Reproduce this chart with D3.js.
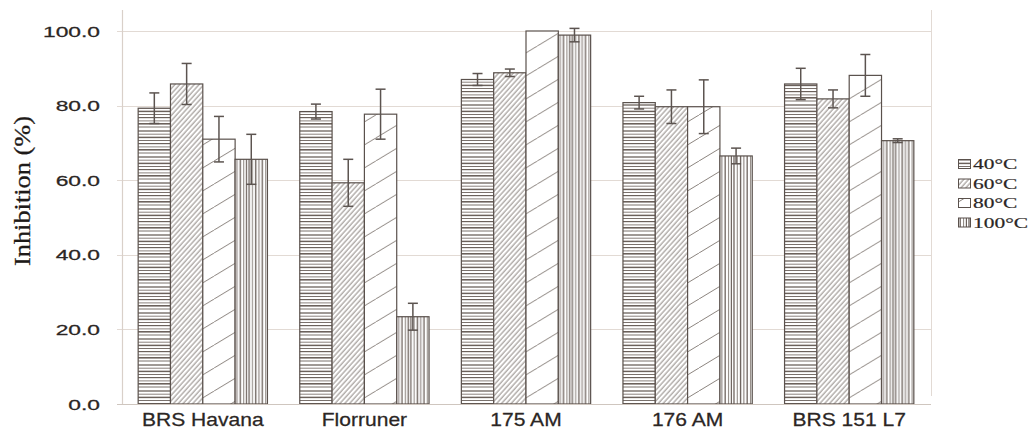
<!DOCTYPE html>
<html>
<head>
<meta charset="utf-8">
<script src="https://cdn.jsdelivr.net/npm/d3@7"></script>
<style>
  html, body { margin: 0; padding: 0; background: #fff; }
  svg { display: block; }
</style>
</head>
<body>
<svg id="chart" width="1036" height="429"></svg>
<script>
// Cultivars on the x axis
const categories = ["BRS Havana", "Florruner", "175 AM", "176 AM", "BRS 151 L7"];
// Treatment temperatures (one bar per temperature within each cultivar)
const series = ["40°C", "60°C", "80°C", "100°C"];

// Mean inhibition (%) per temperature, in cultivar order
const values40 = [79.3, 78.4, 87.0, 80.8, 85.8];
const values60 = [85.8, 59.3, 88.8, 79.7, 81.8];
const values80 = [71.0, 77.7, 100.0, 79.7, 88.1];
const values100 = [65.6, 23.4, 98.9, 66.5, 70.6];

// Standard deviations
const err40 = [4.1, 2.0, 1.6, 1.7, 4.2];
const err60 = [5.5, 6.3, 1.0, 4.5, 2.4];
const err80 = [6.1, 6.7, 0.0, 7.2, 5.6];
const err100 = [6.7, 3.6, 1.8, 2.1, 0.5];

// Y axis ticks
const yTicks = [0, 20, 40, 60, 80, 100];

const valuesBySeries = [values40, values60, values80, values100];
const errBySeries = [err40, err60, err80, err100];
const patternIds = ["p40", "p60", "p80", "p100"];

const svg = d3.select("#chart");
const plotLeft = 122, plotRight = 931, plotTop = 10, plotBottom = 404;

const x = d3.scaleBand().domain(categories).range([plotLeft, plotRight - 1])
  .paddingInner(0.2).paddingOuter(0.1);
const xs = d3.scaleBand().domain(series).range([0, x.bandwidth()]);
const y = d3.scaleLinear().domain([0, 100]).range([plotBottom, 31]);

const lineCol = "#6b615b";
const edgeCol = "#5a514c";
const textCol = "#2b2624";

// ---- hatch patterns ----
const defs = svg.append("defs");

// 40°C: irregular horizontal stripes
const p40 = defs.append("pattern").attr("id", "p40")
  .attr("patternUnits", "userSpaceOnUse").attr("width", 10).attr("height", 26);
[[1, 1.3], [4.2, 0.8], [7.4, 1.5], [10.5, 0.9], [13.6, 1.2], [16.9, 0.8], [19.8, 1.6], [23.0, 0.9]]
  .forEach(([yy, w]) => p40.append("line")
    .attr("x1", 0).attr("x2", 10).attr("y1", yy).attr("y2", yy)
    .attr("stroke", lineCol).attr("stroke-width", w));

// 60°C: dense forward diagonals
const p60 = defs.append("pattern").attr("id", "p60")
  .attr("patternUnits", "userSpaceOnUse").attr("width", 3.6).attr("height", 10)
  .attr("patternTransform", "rotate(42)");
p60.append("line").attr("x1", 1).attr("x2", 1).attr("y1", 0).attr("y2", 10)
  .attr("stroke", "#7a716b").attr("stroke-width", 0.9);

// 80°C: sparse shallow diagonals
const p80 = defs.append("pattern").attr("id", "p80")
  .attr("patternUnits", "userSpaceOnUse").attr("width", 38).attr("height", 23);
[-38, 0, 38].forEach(dx => p80.append("line")
  .attr("x1", dx).attr("y1", 23).attr("x2", dx + 38).attr("y2", 0)
  .attr("stroke", "#7d746e").attr("stroke-width", 0.9));

// 100°C: irregular vertical stripes
const p100 = defs.append("pattern").attr("id", "p100")
  .attr("patternUnits", "userSpaceOnUse").attr("width", 22).attr("height", 10);
[[1, 1.3], [4.3, 0.8], [7.6, 1.4], [10.9, 0.9], [14.2, 1.3], [17.6, 0.8], [20.4, 1.2]]
  .forEach(([xx, w]) => p100.append("line")
    .attr("y1", 0).attr("y2", 10).attr("x1", xx).attr("x2", xx)
    .attr("stroke", lineCol).attr("stroke-width", w));

// ---- grid and axes ----
svg.append("g").selectAll("line").data(yTicks.filter(d => d > 0)).join("line")
  .attr("x1", 117).attr("x2", plotRight)
  .attr("y1", d => Math.round(y(d)) + 0.5).attr("y2", d => Math.round(y(d)) + 0.5)
  .attr("stroke", "#e2dad4").attr("stroke-width", 1);

// left axis line and right frame line
svg.append("line").attr("x1", plotLeft + 0.5).attr("x2", plotLeft + 0.5)
  .attr("y1", plotTop).attr("y2", plotBottom + 1)
  .attr("stroke", "#d9d0c9").attr("stroke-width", 1.2);
svg.append("line").attr("x1", plotRight + 0.5).attr("x2", plotRight + 0.5)
  .attr("y1", plotTop).attr("y2", plotBottom - 8)
  .attr("stroke", "#e2dad4").attr("stroke-width", 1);

// y tick labels
const yLab = svg.append("g");
yTicks.forEach(t => {
  yLab.append("g").attr("transform", `translate(100,${y(t) + 5.5}) scale(1.52,1)`)
    .append("text").attr("text-anchor", "end")
    .attr("font-family", "Liberation Sans, Arial, sans-serif")
    .attr("font-size", 15).attr("fill", textCol)
    .attr("stroke", textCol).attr("stroke-width", 0.25)
    .text(d3.format(".1f")(t));
});

// y axis title
svg.append("text")
  .attr("transform", "translate(30,191) rotate(-90)")
  .attr("text-anchor", "middle")
  .attr("font-family", "Liberation Serif, Times New Roman, serif")
  .attr("font-size", 23).attr("fill", "#1e1a18")
  .attr("stroke", "#1e1a18").attr("stroke-width", 0.3)
  .attr("textLength", 150).attr("lengthAdjust", "spacingAndGlyphs")
  .text("Inhibition (%)");

// ---- bars ----
const groups = svg.append("g").selectAll("g").data(categories).join("g")
  .attr("transform", d => `translate(${x(d)},0)`);

groups.each(function (cat, ci) {
  const g = d3.select(this);
  series.forEach((s, si) => {
    const v = valuesBySeries[si][ci];
    g.append("rect")
      .attr("x", xs(s)).attr("width", xs.bandwidth())
      .attr("y", y(v)).attr("height", y(0) - y(v))
      .attr("fill", "#fff").attr("stroke", "none");
    g.append("rect")
      .attr("x", xs(s)).attr("width", xs.bandwidth())
      .attr("y", y(v)).attr("height", y(0) - y(v))
      .attr("fill", `url(#${patternIds[si]})`)
      .attr("stroke", edgeCol).attr("stroke-width", 1.2);
  });
});

// x axis baseline
svg.append("line").attr("x1", 117).attr("x2", plotRight)
  .attr("y1", plotBottom + 0.5).attr("y2", plotBottom + 0.5)
  .attr("stroke", "#cfc6bf").attr("stroke-width", 1.2);

// ---- error bars ----
groups.each(function (cat, ci) {
  const g = d3.select(this);
  series.forEach((s, si) => {
    const v = valuesBySeries[si][ci], e = errBySeries[si][ci];
    if (!e) return;
    const cx = xs(s) + xs.bandwidth() / 2;
    const eb = g.append("g").attr("stroke", "#5c5450").attr("stroke-width", 1.5);
    eb.append("line").attr("x1", cx).attr("x2", cx).attr("y1", y(v + e)).attr("y2", y(v - e));
    eb.append("line").attr("x1", cx - 5).attr("x2", cx + 5).attr("y1", y(v + e)).attr("y2", y(v + e));
    eb.append("line").attr("x1", cx - 5).attr("x2", cx + 5).attr("y1", y(v - e)).attr("y2", y(v - e));
  });
});

// x labels
categories.forEach(c => {
  svg.append("g").attr("transform", `translate(${x(c) + x.bandwidth() / 2},426) scale(1.17,1)`)
    .append("text").attr("text-anchor", "middle")
    .attr("font-family", "Liberation Sans, Arial, sans-serif")
    .attr("font-size", 18).attr("fill", textCol)
    .attr("stroke", textCol).attr("stroke-width", 0.25)
    .text(c);
});

// ---- legend ----
const legend = svg.append("g");
series.forEach((s, i) => {
  const ly = 164 + i * 19.5;
  legend.append("rect").attr("x", 958.5).attr("y", ly - 4.5).attr("width", 12).attr("height", 9)
    .attr("fill", "#fff");
  legend.append("rect").attr("x", 958.5).attr("y", ly - 4.5).attr("width", 12).attr("height", 9)
    .attr("fill", `url(#${patternIds[i]})`)
    .attr("stroke", edgeCol).attr("stroke-width", 1);
  legend.append("g").attr("transform", `translate(973,${ly + 5}) scale(1.43,1)`)
    .append("text")
    .attr("font-family", "Liberation Serif, Times New Roman, serif")
    .attr("font-size", 15).attr("fill", textCol)
    .attr("stroke", textCol).attr("stroke-width", 0.2)
    .text(s);
});
</script>
</body>
</html>
